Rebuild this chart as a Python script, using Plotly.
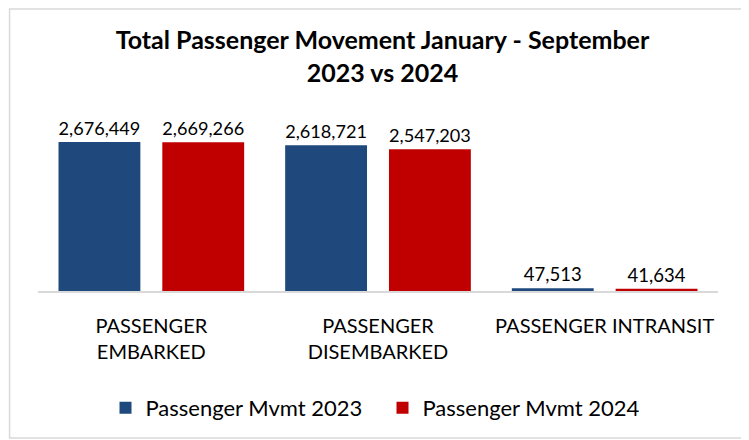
import plotly.graph_objects as go

categories = ["PASSENGER<br>EMBARKED", "PASSENGER<br>DISEMBARKED", "PASSENGER INTRANSIT"]
mvmt_2023 = [2676449, 2618721, 47513]
mvmt_2024 = [2669266, 2547203, 41634]
series_names = ["Passenger Mvmt 2023", "Passenger Mvmt 2024"]

FONT = "Lato"

fig = go.Figure()
fig.add_trace(go.Bar(x=categories, y=mvmt_2023, name=series_names[0],
                     marker=dict(color="#1F497D", line=dict(width=0)),
                     text=[f"{v:,}" for v in mvmt_2023], textposition="outside",
                     textfont=dict(size=18.5, color="#000000"), cliponaxis=False))
fig.add_trace(go.Bar(x=categories, y=mvmt_2024, name=series_names[1],
                     marker=dict(color="#C00000", line=dict(width=0)),
                     text=[f"{v:,}" for v in mvmt_2024], textposition="outside",
                     textfont=dict(size=18.5, color="#000000"), cliponaxis=False))

# the page body adds an 8px offset, so the plot area sits at figure x 29.5..710.5, y 102..283
fig.update_layout(
    width=749, height=440,
    margin=dict(l=29.5, r=38.5, t=102, b=157, autoexpand=False),
    paper_bgcolor="white", plot_bgcolor="white",
    font=dict(family=FONT, color="#000000"),
    title=dict(text="<b>Total Passenger Movement January - September<br>2023 vs 2024</b>",
               x=0.5, xanchor="center", y=1 - 41 / 440, yanchor="top",
               font=dict(size=25, family=FONT, color="#000000")),
    barmode="group", bargap=0.084, bargroupgap=0.2115,
    showlegend=True,
    legend=dict(orientation="h", x=0.5, xanchor="center", xref="container",
                y=1 - 400 / 440, yanchor="middle", yref="container",
                font=dict(size=22), entrywidth=232, traceorder="normal"),
    xaxis=dict(showline=True, linecolor="#D9D9D9", linewidth=2, ticks="outside",
               ticklen=16, tickcolor="rgba(0,0,0,0)", tickfont=dict(size=20),
               automargin=False),
    yaxis=dict(visible=False, range=[0, 3250000], automargin=False),
    shapes=[dict(type="rect", xref="paper", yref="paper",
                 x0=-0.0418, x1=1.0389, y0=-0.812, y1=1.558,
                 line=dict(color="#D9D9D9", width=1.5), fillcolor="rgba(0,0,0,0)")],
)

fig.write_html("out.html")
